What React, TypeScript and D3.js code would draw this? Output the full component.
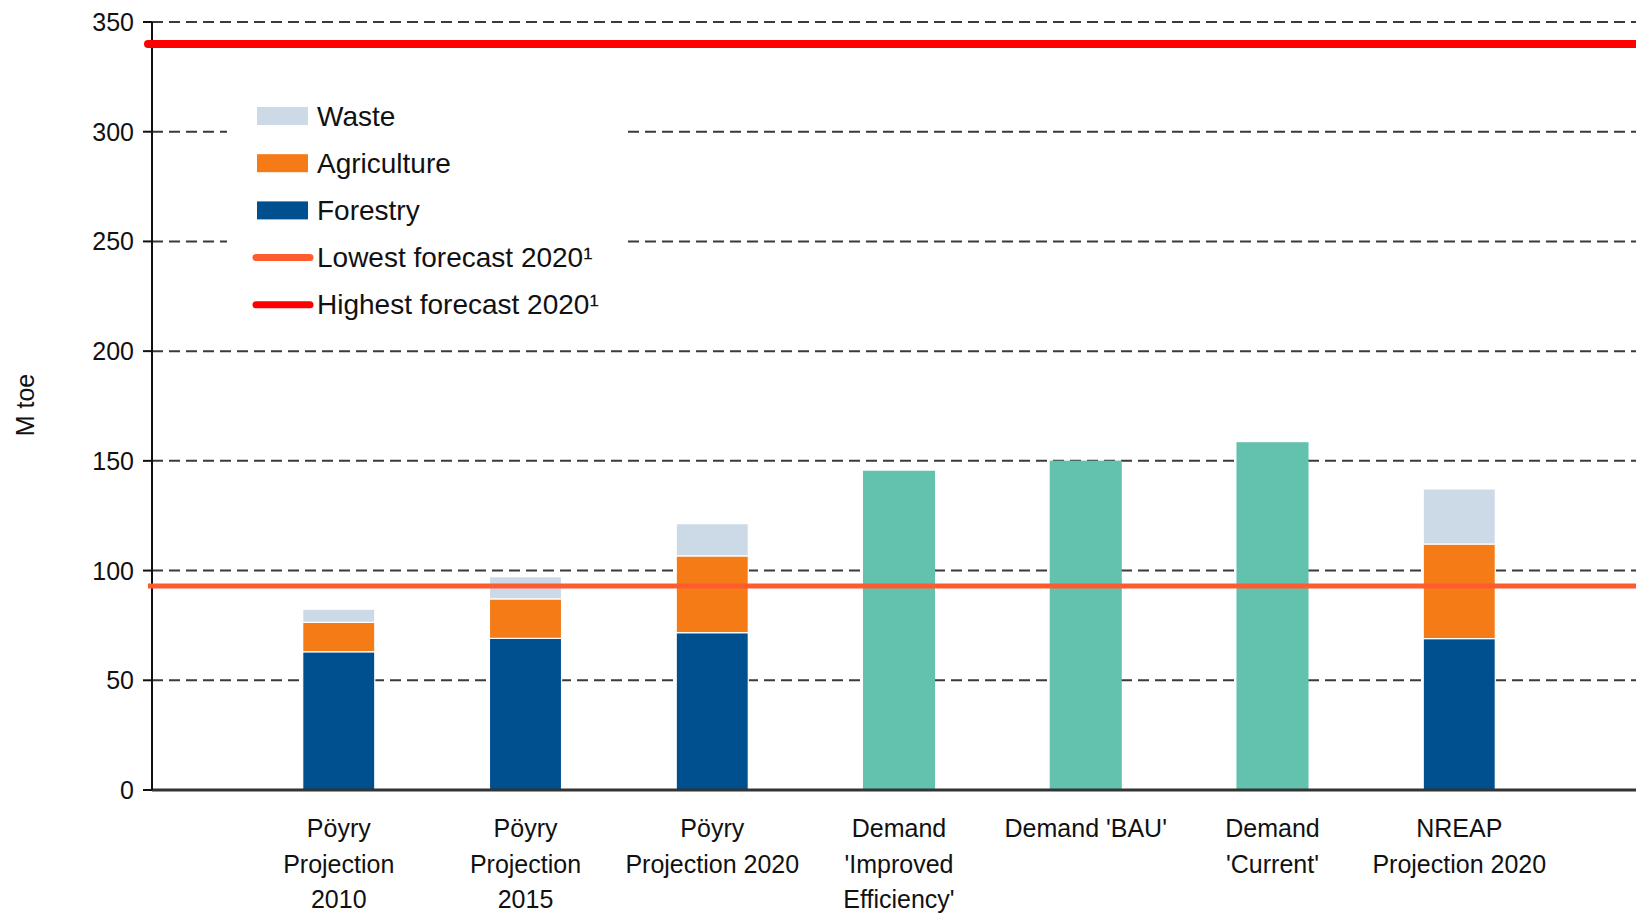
import React from "react";
import * as d3 from "d3";

const categories = ["p2010", "p2015", "p2020", "dImp", "dBAU", "dCur", "nreap"];
const categoryLabels: string[][] = [
  ["Pöyry", "Projection", "2010"],
  ["Pöyry", "Projection", "2015"],
  ["Pöyry", "Projection 2020"],
  ["Demand", "'Improved", "Efficiency'"],
  ["Demand 'BAU'"],
  ["Demand", "'Current'"],
  ["NREAP", "Projection 2020"],
];
const forestry = [63.0, 69.1, 71.7, 0, 0, 0, 69.0];
const agriculture = [13.4, 18.0, 35.0, 0, 0, 0, 43.1];
const waste = [6.0, 10.1, 14.7, 0, 0, 0, 25.1];
const demand = [0, 0, 0, 145.5, 150.1, 158.5, 0];
const lowestForecast = 93;
const highestForecast = 340;
const yTicks = [0, 50, 100, 150, 200, 250, 300, 350];
const seriesKeys = ["forestry", "agriculture", "waste"];
const seriesColors: Record<string, string> = {
  forestry: "#00508F",
  agriculture: "#F47B16",
  waste: "#CCDAE7",
};
const demandColor = "#62C2AE";
const lowColor = "#FF5B2E";
const highColor = "#FF0000";

const legendItems = [
  { label: "Waste", type: "rect", color: "#CCDAE7" },
  { label: "Agriculture", type: "rect", color: "#F47B16" },
  { label: "Forestry", type: "rect", color: "#00508F" },
  { label: "Lowest forecast 2020¹", type: "line", color: "#FF5B2E" },
  { label: "Highest forecast 2020¹", type: "line", color: "#FF0000" },
];

const W = 1636;
const H = 916;
const x0 = 152;
const x1 = 1646;
const yBottom = 790;
const yTop = 22;
const font = "'Liberation Sans', Arial, sans-serif";

export default function App() {
  const x = d3
    .scaleBand<string>()
    .domain(categories)
    .range([x0, x1])
    .paddingInner(0.614)
    .paddingOuter(0.807);
  const y = d3.scaleLinear().domain([0, 350]).range([yBottom, yTop]);

  const rows = categories.map((c, i) => ({
    cat: c,
    forestry: forestry[i],
    agriculture: agriculture[i],
    waste: waste[i],
  }));
  const stacked = d3.stack<any>().keys(seriesKeys)(rows);

  return (
    <svg
      width={W}
      height={H}
      style={{ position: "absolute", left: 0, top: 0, background: "#fff" }}
      fontFamily={font}
    >
      <rect x={0} y={0} width={W} height={H} fill="#fff" />
      {/* gridlines */}
      {yTicks.filter((t) => t > 0).map((t) => (
        <line
          key={"g" + t}
          x1={x0}
          x2={W}
          y1={y(t)}
          y2={y(t)}
          stroke="#3a3a3a"
          strokeWidth={2}
          strokeDasharray="11,6"
        />
      ))}
      {/* legend background */}
      <rect x={227} y={68} width={396} height={258} fill="#fff" />
      {/* stacked bars */}
      {stacked.map((s) =>
        s.map((d, i) =>
          d[1] - d[0] > 0 ? (
            <rect
              key={s.key + i}
              x={x(categories[i])!}
              width={x.bandwidth()}
              y={y(d[1])}
              height={y(d[0]) - y(d[1])}
              fill={seriesColors[s.key]}
              stroke="#fff"
              strokeWidth={1.2}
            />
          ) : null
        )
      )}
      {demand.map((v, i) =>
        v > 0 ? (
          <rect
            key={"d" + i}
            x={x(categories[i])!}
            width={x.bandwidth()}
            y={y(v)}
            height={y(0) - y(v)}
            fill={demandColor}
          />
        ) : null
      )}
      {/* x axis */}
      <line x1={x0} x2={W} y1={yBottom} y2={yBottom} stroke="#333" strokeWidth={3} />
      {/* y axis */}
      <line x1={x0} x2={x0} y1={y(350)} y2={yBottom} stroke="#111" strokeWidth={2} />
      {yTicks.map((t) => (
        <g key={"t" + t}>
          <line x1={143} x2={x0} y1={y(t)} y2={y(t)} stroke="#111" strokeWidth={2} />
          <text
            x={134}
            y={y(t)}
            textAnchor="end"
            dominantBaseline="central"
            fontSize={25}
            fill="#111"
          >
            {t}
          </text>
        </g>
      ))}
      {/* forecast lines */}
      <line
        x1={x0 - 4}
        x2={W}
        y1={y(lowestForecast)}
        y2={y(lowestForecast)}
        stroke={lowColor}
        strokeWidth={5}
      />
      <line
        x1={x0 - 4}
        x2={W}
        y1={y(highestForecast)}
        y2={y(highestForecast)}
        stroke={highColor}
        strokeWidth={8}
        strokeLinecap="round"
      />
      {/* y label */}
      <text
        transform={`translate(25,${405}) rotate(-90)`}
        textAnchor="middle"
        dominantBaseline="central"
        fontSize={25}
        fill="#111"
      >
        M toe
      </text>
      {/* category labels */}
      {categoryLabels.map((lines, i) =>
        lines.map((ln, j) => (
          <text
            key={"c" + i + j}
            x={x(categories[i])! + x.bandwidth() / 2}
            y={828 + j * 35.5}
            textAnchor="middle"
            dominantBaseline="central"
            fontSize={25}
            fill="#111"
          >
            {ln}
          </text>
        ))
      )}
      {/* legend */}
      {legendItems.map((it, i) => {
        const cy = 116 + i * 47.2;
        return (
          <g key={"l" + i}>
            {it.type === "rect" ? (
              <rect x={257} y={cy - 9} width={51} height={18} fill={it.color} />
            ) : (
              <line
                x1={256}
                x2={310}
                y1={cy}
                y2={cy}
                stroke={it.color}
                strokeWidth={7}
                strokeLinecap="round"
              />
            )}
            <text
              x={317}
              y={cy}
              dominantBaseline="central"
              fontSize={28}
              fill="#111"
              textLength={undefined}
            >
              {it.label}
            </text>
          </g>
        );
      })}
    </svg>
  );
}
